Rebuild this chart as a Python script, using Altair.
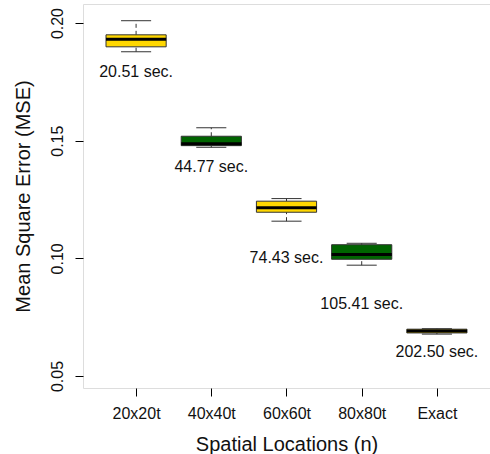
import altair as alt
import pandas as pd

categories = ["20x20t", "40x40t", "60x60t", "80x80t", "Exact"]
whisker_low = [0.1878, 0.1472, 0.1158, 0.0971, 0.0678]
q1 = [0.1899, 0.1479, 0.1196, 0.0996, 0.0683]
median = [0.1931, 0.1487, 0.1215, 0.1016, 0.0691]
q3 = [0.1950, 0.1519, 0.1243, 0.1058, 0.0699]
whisker_high = [0.2010, 0.1555, 0.1254, 0.1064, 0.0701]
time_labels = ["20.51 sec.", "44.77 sec.", "74.43 sec.", "105.41 sec.", "202.50 sec."]
label_y = [0.1792, 0.1390, 0.1003, 0.0805, 0.0604]
fills = ["#FFD700", "#006400", "#FFD700", "#006400", "#FFD700"]

df = pd.DataFrame({
    "cat": categories,
    "pos": list(range(1, len(categories) + 1)),
    "lo": whisker_low, "q1": q1, "med": median, "q3": q3, "hi": whisker_high,
    "lab": time_labels, "laby": label_y, "fill": fills,
})

FONT = "Liberation Sans"
label_expr = "[" + ",".join(f"'{c}'" for c in categories) + "][datum.value - 1]"

xs = alt.Scale(domain=[0.294, 5.706], nice=False, zero=False)
ys = alt.Scale(domain=[0.0449, 0.2081], nice=False, zero=False)

x_axis = alt.Axis(values=[1, 2, 3, 4, 5], labelExpr=label_expr, title="Spatial Locations (n)",
                  domain=False, grid=False, tickSize=8, tickColor="black", labelPadding=9,
                  labelFont=FONT, labelFontSize=16, labelColor="#111",
                  titleFont=FONT, titleFontSize=20, titleFontWeight="normal", titleColor="#111",
                  titleY=56, titleBaseline="middle")
y_axis = alt.Axis(values=[0.05, 0.10, 0.15, 0.20], format=".2f", title="Mean Square Error (MSE)",
                  domain=False, grid=False, tickSize=8, tickColor="black", labelPadding=10,
                  labelAngle=270, labelAlign="center", labelBaseline="bottom",
                  labelFont=FONT, labelFontSize=16, labelColor="#111",
                  titleFont=FONT, titleFontSize=20, titleFontWeight="normal", titleColor="#111",
                  titleX=-60, titleY=192, titleAngle=270, titleAlign="center", titleBaseline="middle")

base = alt.Chart(df)

lower = base.mark_rule(color="#333", strokeDash=[4, 3], strokeWidth=1).encode(
    x=alt.X("pos:Q", scale=xs, axis=x_axis), y=alt.Y("lo:Q", scale=ys, axis=y_axis), y2="q1:Q")
upper = base.mark_rule(color="#333", strokeDash=[4, 3], strokeWidth=1).encode(
    x=alt.X("pos:Q", scale=xs), y=alt.Y("q3:Q", scale=ys), y2="hi:Q")

caps = base.transform_calculate(cl="datum.pos - 0.2", cr="datum.pos + 0.2")
cap_lo = caps.mark_rule(color="#333", strokeWidth=1).encode(
    x=alt.X("cl:Q", scale=xs), x2="cr:Q", y=alt.Y("lo:Q", scale=ys))
cap_hi = caps.mark_rule(color="#333", strokeWidth=1).encode(
    x=alt.X("cl:Q", scale=xs), x2="cr:Q", y=alt.Y("hi:Q", scale=ys))

boxes = base.transform_calculate(bl="datum.pos - 0.4", br="datum.pos + 0.4")
box = boxes.mark_rect(stroke="#333", strokeWidth=1).encode(
    x=alt.X("bl:Q", scale=xs), x2="br:Q", y=alt.Y("q1:Q", scale=ys), y2="q3:Q",
    fill=alt.Fill("fill:N", scale=None))
med = boxes.mark_rule(color="black", strokeWidth=3).encode(
    x=alt.X("bl:Q", scale=xs), x2="br:Q", y=alt.Y("med:Q", scale=ys))

text = base.mark_text(font=FONT, fontSize=16, color="#111", baseline="middle", align="center").encode(
    x=alt.X("pos:Q", scale=xs), y=alt.Y("laby:Q", scale=ys), text="lab:N")

chart = alt.layer(lower, upper, cap_lo, cap_hi, box, med, text).properties(
    width=407, height=384,
    autosize=alt.AutoSizeParams(type="none"),
    padding={"left": 83, "top": 4, "right": 0, "bottom": 66},
).configure_view(stroke="#111", strokeWidth=1).configure(background="white")

chart.save("out.html", embed_options={"renderer": "svg", "actions": False})
